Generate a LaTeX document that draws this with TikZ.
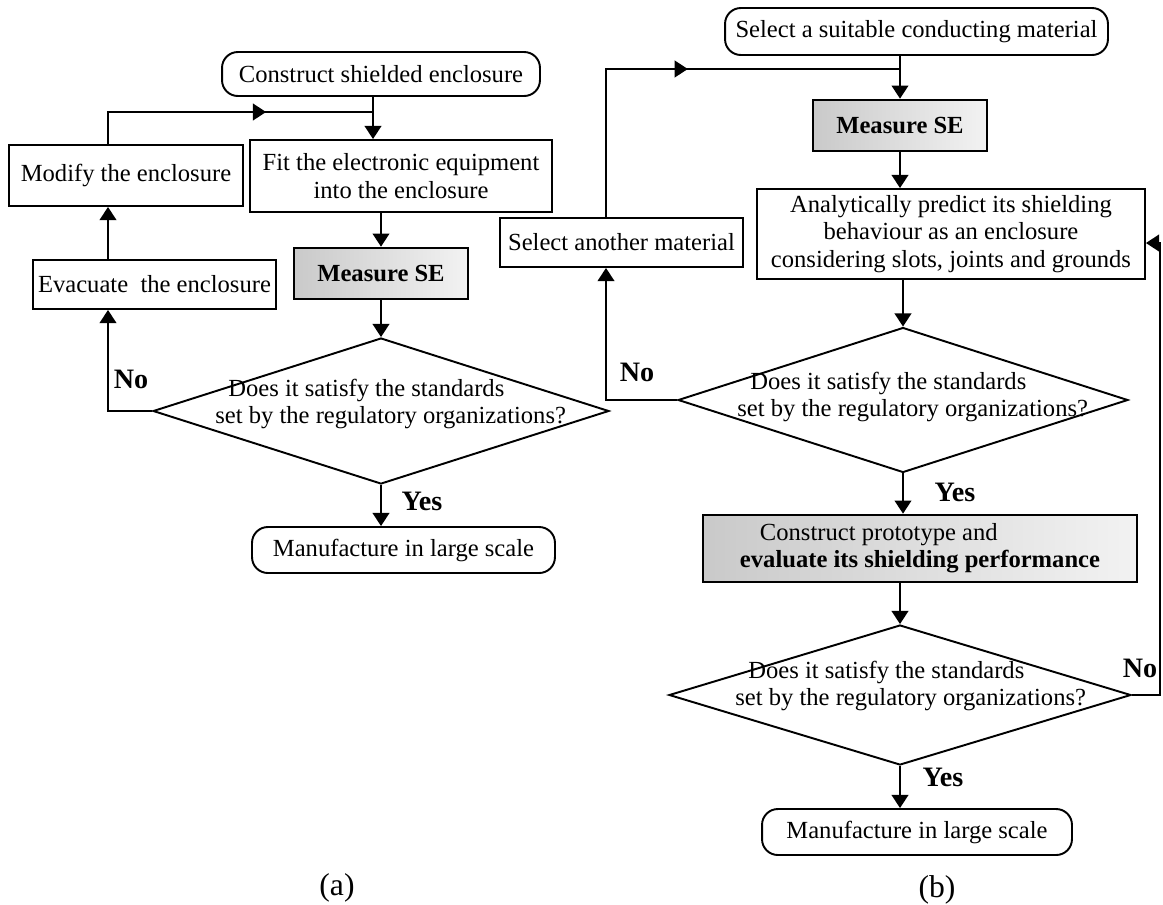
\documentclass[tikz,border=0pt]{standalone}
\usepackage{fontspec}
\setmainfont{Liberation Serif}
\usetikzlibrary{arrows.meta,shapes.geometric,decorations.markings}
\tikzset{
  procbox/.style={draw, line width=1.1pt, inner sep=2pt, align=center},
  termbox/.style={draw, line width=1.1pt, rounded corners=9pt, inner sep=2pt, align=center},
  shadebox/.style={draw, line width=1.5pt, left color=gray!42, right color=gray!10, inner sep=2pt, align=center},
  decision/.style={draw, diamond, line width=1.1pt, inner sep=0pt},
  qtext/.style={anchor=west, align=left, inner sep=0pt},
  answer/.style={font=\fontsize{16}{18}\selectfont\bfseries, inner sep=0pt},
  caption/.style={font=\fontsize{18}{20}\selectfont, inner sep=0pt},
  line/.style={line width=1.1pt},
  arr/.style={line, -{Triangle[length=7.5pt,width=9.5pt]}},
  midarr/.style={postaction={decorate}, decoration={markings, mark=at position #1 with {\arrow{Triangle[length=7.5pt,width=9.5pt]}}}},
}

\begin{document}
\begin{tikzpicture}[x=0.02cm, y=-0.02cm, font=\fontsize{14}{15.5}\selectfont]
  \useasboundingbox (0,0) rectangle (1163,904);

  % (a) measure and modify loop
  \node[termbox, minimum width=6.36cm, minimum height=0.88cm] (cse) at (381,74) {Construct shielded enclosure};
  \node[procbox, minimum width=6.04cm, minimum height=1.44cm] (fit) at (401,176) {Fit the electronic equipment\\into the enclosure};
  \node[shadebox, minimum width=3.48cm, minimum height=1.02cm] (measa) at (381,273.5) {\bfseries Measure SE};
  \node[procbox, minimum width=4.68cm, minimum height=1.22cm] (modify) at (126,175.5) {Modify the enclosure};
  \node[procbox, minimum width=4.86cm, minimum height=0.98cm] (evac) at (154.5,284.5) {Evacuate\ \ the enclosure};
  \node[decision, minimum width=9.12cm, minimum height=2.92cm] (deca) at (381,411) {};
  \node[qtext] (qa) at (215,404) {\hspace*{0.26cm}Does it satisfy the standards\\set by the regulatory organizations?};
  \node[termbox, minimum width=6.06cm, minimum height=0.92cm] (mana) at (403.5,550) {Manufacture in large scale};
  \node[answer] (noa) at (131,379) {No};
  \node[answer] (yesa) at (422,501) {Yes};
  \node[caption] (capa) at (337,888) {(a)};

  \coordinate (ca) at (108,112);
  \coordinate (fa) at (373,112);
  \draw[arr] (cse.south -| fa) -- (fit.north -| fa);
  \draw[arr] (fit.south -| measa) -- (measa.north);
  \draw[arr] (measa.south) -- (deca.north);
  \draw[arr] (deca.south) -- (mana.north -| deca);
  \draw[arr] (deca.west) -| (evac.south -| ca);
  \draw[arr] (evac.north -| ca) -- (modify.south -| ca);
  \draw[line, midarr=0.64] (modify.north -| ca) |- (fa);

  % (b) material selection loop
  \node[termbox, minimum width=7.66cm, minimum height=0.94cm] (ssc) at (916.5,31.5) {Select a suitable conducting material};
  \node[shadebox, minimum width=3.48cm, minimum height=1.02cm] (measb) at (900,125.5) {\bfseries Measure SE};
  \node[procbox, minimum width=7.76cm, minimum height=1.8cm] (anal) at (951,234) {Analytically predict its shielding\\behaviour as an enclosure\\considering slots, joints and grounds};
  \node[procbox, minimum width=4.86cm, minimum height=0.98cm] (selo) at (621.5,242.5) {Select another material};
  \node[decision, minimum width=9cm, minimum height=2.9cm] (decb1) at (903,400) {};
  \node[qtext] (qb1) at (737,397) {\hspace*{0.26cm}Does it satisfy the standards\\set by the regulatory organizations?};
  \node[shadebox, minimum width=8.68cm, minimum height=1.34cm, align=left] (proto) at (920,548.5) {\hspace*{0.4cm}Construct prototype and\\\textbf{evaluate its shielding performance}};
  \node[decision, minimum width=9.24cm, minimum height=2.8cm] (decb2) at (900,695) {};
  \node[qtext] (qb2) at (735,686) {\hspace*{0.26cm}Does it satisfy the standards\\set by the regulatory organizations?};
  \node[termbox, minimum width=6.2cm, minimum height=0.92cm] (manb) at (917,832) {Manufacture in large scale};
  \node[answer] (nob1) at (637,372) {No};
  \node[answer] (yesb1) at (955,492) {Yes};
  \node[answer] (nob2) at (1140,668) {No};
  \node[answer] (yesb2) at (943,777) {Yes};
  \node[caption] (capb) at (937,890) {(b)};

  \coordinate (cb) at (606,69);
  \coordinate (rb) at (1160,243);
  \draw[arr] (ssc.south -| measb) -- (measb.north);
  \draw[arr] (measb.south) -- (anal.north -| measb);
  \draw[arr] (anal.south -| decb1) -- (decb1.north);
  \draw[arr] (decb1.south) -- (proto.north -| decb1);
  \draw[arr] (proto.south -| decb2) -- (decb2.north);
  \draw[arr] (decb2.south) -- (manb.north -| decb2);
  \draw[arr] (decb1.west) -| (selo.south -| cb);
  \draw[line, midarr=0.52] (selo.north -| cb) |- (cb -| measb);
  \draw[arr] (decb2.east) -| (rb) -- (anal.east |- rb);
\end{tikzpicture}
\end{document}
